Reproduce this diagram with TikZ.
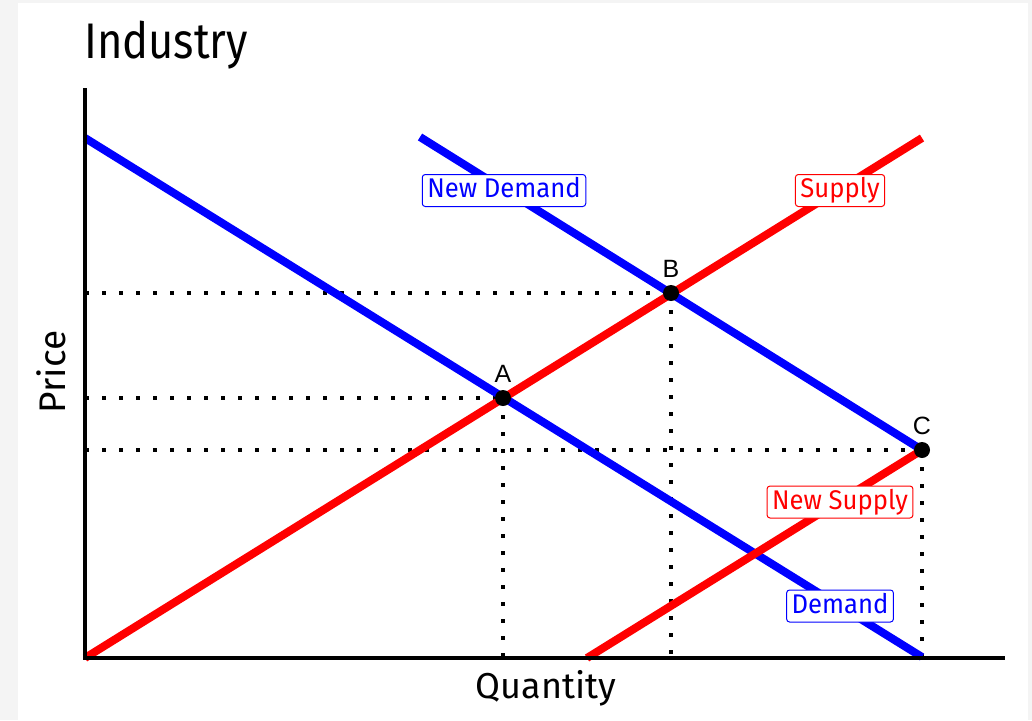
\documentclass[tikz,border=0pt]{standalone}
\usepackage{fontspec}
\setmainfont{Fira Sans}
\newfontfamily\ptfont{Liberation Sans}
\newfontfamily\titlefont[FakeStretch=0.87]{Fira Sans}
\newfontfamily\labelfont[FakeStretch=0.95]{Fira Sans}
\definecolor{bgray}{HTML}{F4F4F4}
\definecolor{myblue}{RGB}{0,0,255}
\definecolor{myred}{RGB}{255,0,0}
\begin{document}
\begin{tikzpicture}[x=1pt,y=-1pt,
  curve/.style={line width=8pt},
  axis/.style={line width=4pt,black},
  guide/.style={line width=4pt,dash pattern=on 4pt off 13pt,black},
  lbl/.style={line width=1pt,rounded corners=3pt,fill=white,inner xsep=5pt,inner ysep=3pt,
    text height=20pt,text depth=6pt,font=\labelfont\fontsize{27}{29}\selectfont},
  pt/.style={circle,fill=black,inner sep=0pt,minimum size=16pt},
  ptl/.style={anchor=base,font=\ptfont\fontsize{25}{27}\selectfont}]
\useasboundingbox (0,0) rectangle (1032,720);
\fill[bgray] (0,0) rectangle (1032,720);
\fill[white] (18,3) rectangle (1028,720);
% coordinates
\coordinate (O) at (85,658);
\coordinate (Ytop) at (85,88);
\coordinate (Xend) at (1005,658);
\coordinate (D1) at (85,138);
\coordinate (D2) at (922,657);
\coordinate (ND1) at (420,137);
\coordinate (S1) at (85,658);
\coordinate (S2) at (922,138);
\coordinate (NS1) at (587,658);
\coordinate (PA) at (503,398);
\coordinate (PB) at (671,293);
\coordinate (PC) at (922,450);
\coordinate (YA) at (85,398);
\coordinate (YB) at (85,293);
\coordinate (YC) at (85,450);
\coordinate (XA) at (503,658);
\coordinate (XB) at (671,658);
\coordinate (XC) at (922,658);
% guides
\draw[guide] (YB) -- (PB);
\draw[guide] (YA) -- (PA);
\draw[guide] (YC) -- (PC);
\draw[guide] (PA) -- (XA);
\draw[guide] (PB) -- (XB);
\draw[guide] (PC) -- (XC);
% curves
\draw[curve,myblue] (D1) -- (D2);
\draw[curve,myblue] (ND1) -- (PC);
\draw[curve,myred] (S1) -- (S2);
\draw[curve,myred] (NS1) -- (PC);
% axes
\draw[axis] (Ytop) -- (O) -- (Xend);
% points
\node[pt] (A) at (PA) {};
\node[pt] (B) at (PB) {};
\node[pt] (C) at (PC) {};
\node[ptl] (la) at ([yshift=16pt]PA) {A};
\node[ptl] (lb) at ([yshift=16pt]PB) {B};
\node[ptl] (lc) at ([yshift=16pt]PC) {C};
% labels
\node[lbl,draw=myblue,text=myblue] (lnd) at (504,190.5) {New Demand};
\node[lbl,draw=myred,text=myred] (ls) at (840,190.5) {Supply};
\node[lbl,draw=myred,text=myred] (lns) at (840,502) {New Supply};
\node[lbl,draw=myblue,text=myblue] (ld) at (840,606) {Demand};
% titles
\node[anchor=base west,inner sep=0pt,font=\titlefont\fontsize{50}{52}\selectfont] (title) at (84,58) {Industry};
\node[rotate=90,anchor=base,inner sep=0pt,font=\fontsize{37}{39}\selectfont] (ylab) at (65,372) {Price};
\node[anchor=base,inner sep=0pt,font=\fontsize{36}{38}\selectfont] (xlab) at (546,698) {Quantity};
\end{tikzpicture}
\end{document}
